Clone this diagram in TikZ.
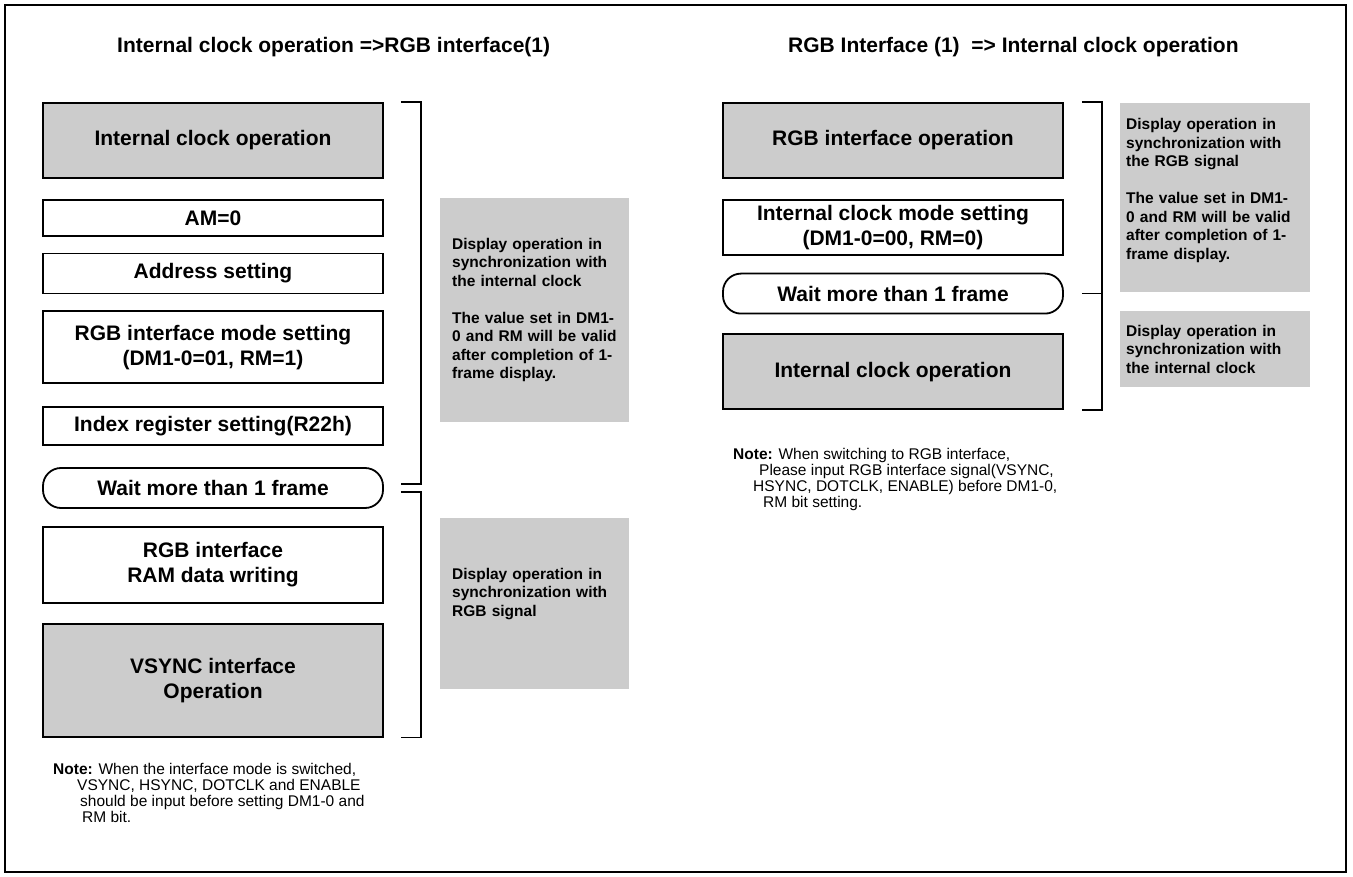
\documentclass[tikz,border=0pt]{standalone}
\usepackage{fontspec}
\setmainfont{Liberation Sans}
\usetikzlibrary{positioning}
\definecolor{BoxGray}{HTML}{CCCCCC}
\newcommand{\boxfont}{\fontsize{21}{25}\selectfont\bfseries}
\newcommand{\sidefont}{\fontsize{15.5}{18.5}\selectfont\bfseries}
\newcommand{\notefont}{\fontsize{15.5}{15.8}\selectfont}

\begin{document}
\begin{tikzpicture}[x=1pt, y=-1pt, every node/.style={inner sep=0pt},
  flowbox/.style={draw, line width=1.8pt, minimum width=340pt, align=center, font=\boxfont},
  opbox/.style={flowbox, fill=BoxGray},
  waitbox/.style={flowbox, rounded corners=18pt, minimum height=40pt},
  sidenote/.style={fill=BoxGray, align=left, font=\sidefont, anchor=north west},
  brk/.style={line width=1.6pt}]
  \useasboundingbox (0,0) rectangle (1353,877);
  \draw[line width=2pt] (5,5) rectangle (1346,872);

  \node[anchor=base west, font=\boxfont] (t1) at (117,53) {Internal clock operation =>RGB interface(1)};
  \node[anchor=base west, font=\boxfont] (t2) at (788,53) {RGB Interface (1)\ \ => Internal clock operation};

  % left sequence
  \node[opbox, minimum height=75pt] (l1) at (213,140.5) {Internal clock operation};
  \node[flowbox, minimum height=36pt, below=20pt of l1] (l2) {AM=0};
  \node[flowbox, minimum height=40pt, below=16pt of l2] (l3) {Address setting};
  \node[flowbox, minimum height=72pt, below=16pt of l3] (l4) {RGB interface mode setting\\(DM1-0=01, RM=1)};
  \node[flowbox, minimum height=38pt, below=22pt of l4] (l5) {Index register setting(R22h)};
  \node[waitbox, below=21pt of l5] (lw) {Wait more than 1 frame};
  \node[flowbox, minimum height=76pt, below=17pt of lw] (l7) {RGB interface\\RAM data writing};
  \node[opbox, minimum height=113pt, below=19pt of l7] (l8) {VSYNC interface\\Operation};

  \draw[brk] ([xshift=17pt]l1.north east) -- ++(20,0) |- ([xshift=17pt,yshift=4pt]lw.east);
  \draw[brk] ([xshift=17pt,yshift=-4pt]lw.east) -- ++(20,0) |- ([xshift=17pt]l8.south east);

  \node[sidenote, minimum width=189pt, minimum height=224pt, text width=165pt, inner xsep=12pt] (g1) at (440,198)
    {Display operation in\\synchronization with\\the internal clock\\[18.5pt]The value set in DM1-\\0 and RM will be valid\\after completion of 1-\\frame display.};
  \node[sidenote, minimum width=189pt, minimum height=171pt, text width=165pt, inner xsep=12pt, text depth=60pt] (g2) at (440,518)
    {Display operation in\\synchronization with\\RGB signal};

  \node[anchor=base west, align=left, font=\notefont] (n1) at (53,822)
    {\textbf{Note:} When the interface mode is switched,\\\hspace*{24pt}VSYNC, HSYNC, DOTCLK and ENABLE\\\hspace*{27pt}should be input before setting DM1-0 and\\\hspace*{29pt}RM bit.};

  % right sequence
  \node[opbox, minimum height=75pt] (r1) at (893,140.5) {RGB interface operation};
  \node[flowbox, minimum height=55pt, below=20pt of r1] (r2) {Internal clock mode setting\\(DM1-0=00, RM=0)};
  \node[waitbox, below=17pt of r2] (rw) {Wait more than 1 frame};
  \node[opbox, minimum height=75pt, below=19pt of rw] (r4) {Internal clock operation};

  \draw[brk] ([xshift=18pt]r1.north east) -- ++(20,0) |- ([xshift=18pt]r4.south east);
  \draw[brk] ([xshift=18pt]rw.east) -- ++(20,0);

  \node[sidenote, minimum width=190pt, minimum height=189pt, text width=178pt, inner xsep=6pt, text depth=147pt] (g3) at (1120,103)
    {Display operation in\\synchronization with\\the RGB signal\\[18.5pt]The value set in DM1-\\0 and RM will be valid\\after completion of 1-\\frame display.};
  \node[sidenote, minimum width=190pt, minimum height=76pt, text width=178pt, inner xsep=6pt] (g4) at (1120,311)
    {Display operation in\\synchronization with\\the internal clock};

  \node[anchor=base west, align=left, font=\notefont] (n2) at (733,507)
    {\textbf{Note:} When switching to RGB interface,\\\hspace*{26pt}Please input RGB interface signal(VSYNC,\\\hspace*{20pt}HSYNC, DOTCLK, ENABLE) before DM1-0,\\\hspace*{30pt}RM bit setting.};
\end{tikzpicture}
\end{document}
